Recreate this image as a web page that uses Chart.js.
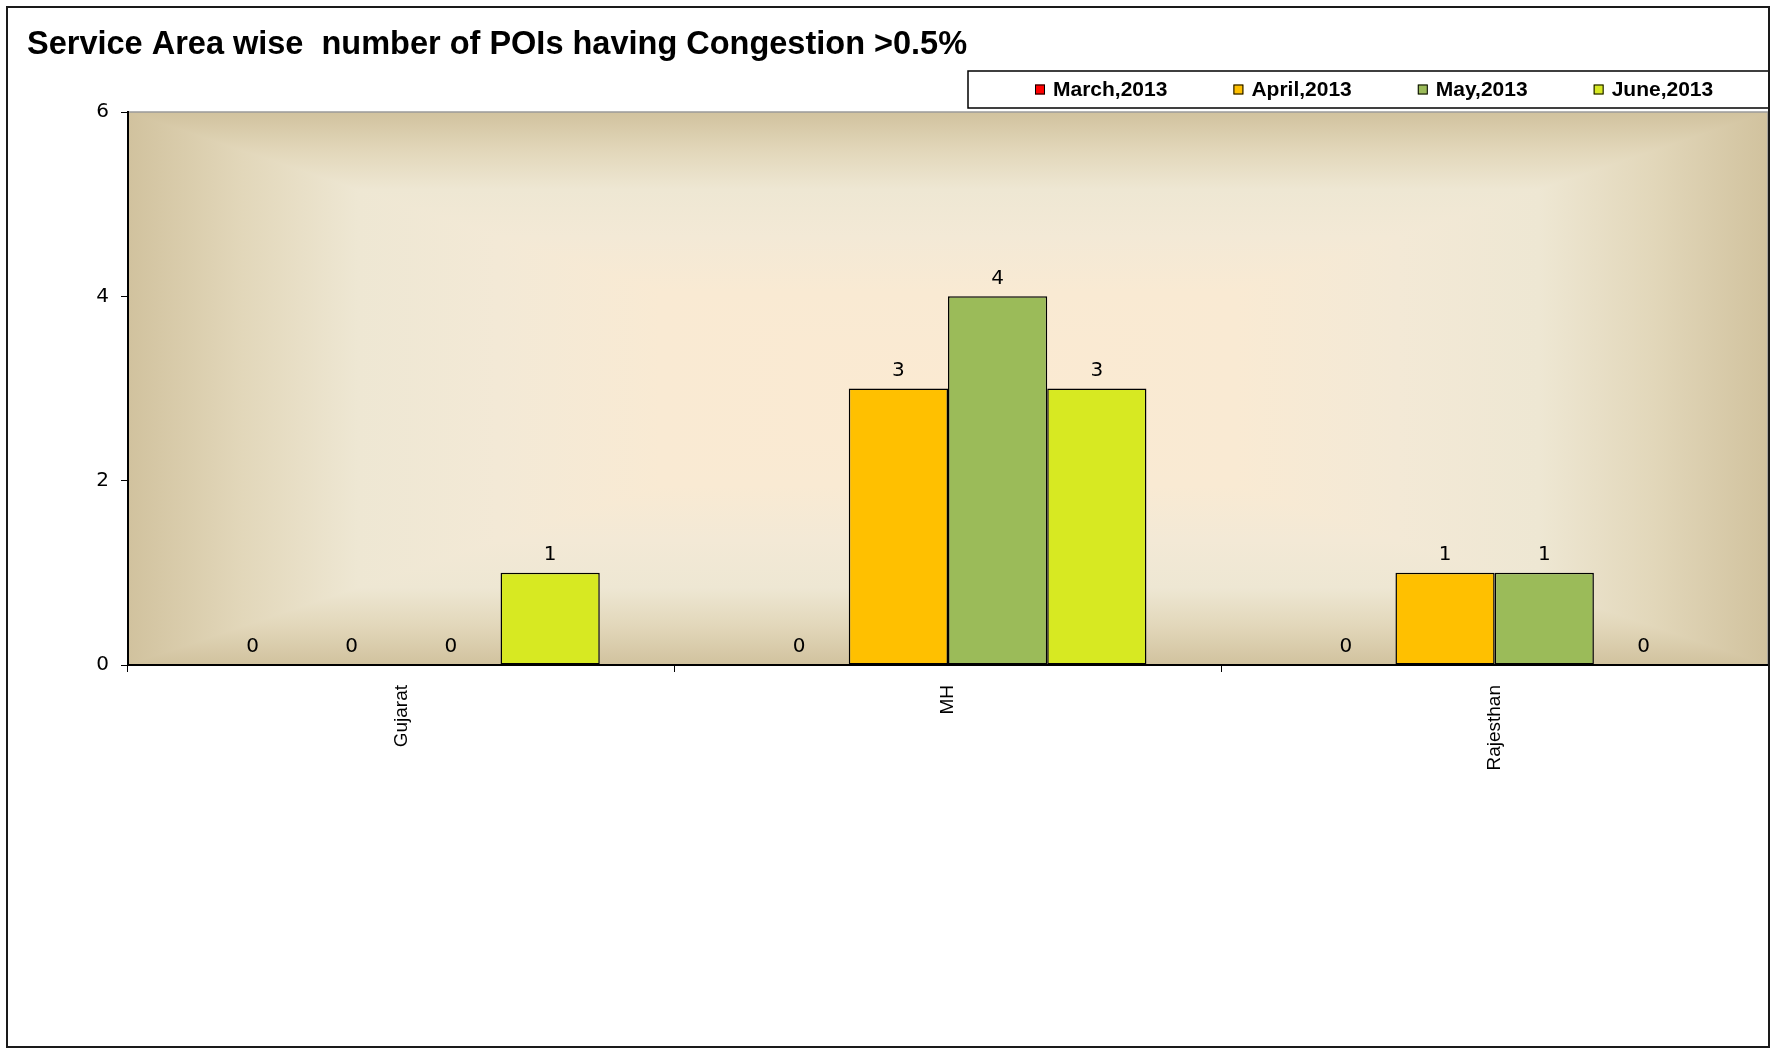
<!DOCTYPE html>
<html>
<head>
<meta charset="utf-8">
<title>Service Area wise number of POIs having Congestion &gt;0.5%</title>
<script src="https://cdn.jsdelivr.net/npm/chart.js@4.4.1/dist/chart.umd.min.js"></script>
<style>
    html, body { margin: 0; padding: 0; background: #ffffff; }
    canvas { display: block; }
</style>
</head>
<body>
<canvas id="poi-chart" width="1779" height="1050"></canvas>
<script>
// Chart data
const areas = ['Gujarat', 'MH', 'Rajesthan'];
const monthLabels = ['March,2013', 'April,2013', 'May,2013', 'June,2013'];
const march2013 = [0, 0, 0];
const april2013 = [0, 3, 1];
const may2013 = [0, 4, 1];
const june2013 = [1, 3, 0];
const yTicks = [0, 2, 4, 6];

const monthColors = ['#FF0000', '#FFC000', '#9BBB59', '#D7E922'];
const labelFont = '"DejaVu Sans", Verdana, sans-serif';
const arialFont = '"Liberation Sans", Arial, sans-serif';

// Rectangular "from centre" gradient behind the bars, like the Excel plot area
const plotBackground = {
    id: 'plotBackground',
    beforeDraw(chart) {
        const { ctx, chartArea: a } = chart;
        const cx = (a.left + a.right) / 2;
        const cy = (a.top + a.bottom) / 2;
        const stops = [
            [0, '#FBEAD2'],
            [0.35, '#F9EAD3'],
            [0.55, '#F3E9D6'],
            [0.72, '#EEE7D3'],
            [0.86, '#E2D7BA'],
            [1, '#D1C29E']
        ];
        const fillGradient = (x0, y0, x1, y1) => {
            const g = ctx.createLinearGradient(x0, y0, x1, y1);
            stops.forEach(s => g.addColorStop(s[0], s[1]));
            return g;
        };
        ctx.save();
        // left and right halves first
        ctx.fillStyle = fillGradient(cx, 0, a.left, 0);
        ctx.fillRect(a.left, a.top, cx - a.left, a.bottom - a.top);
        ctx.fillStyle = fillGradient(cx, 0, a.right, 0);
        ctx.fillRect(cx, a.top, a.right - cx, a.bottom - a.top);
        // then the top and bottom triangles over them
        ctx.beginPath();
        ctx.moveTo(a.left, a.top);
        ctx.lineTo(a.right, a.top);
        ctx.lineTo(cx, cy);
        ctx.closePath();
        ctx.fillStyle = fillGradient(0, cy, 0, a.top);
        ctx.fill();
        ctx.beginPath();
        ctx.moveTo(a.left, a.bottom);
        ctx.lineTo(a.right, a.bottom);
        ctx.lineTo(cx, cy);
        ctx.closePath();
        ctx.fillStyle = fillGradient(0, cy, 0, a.bottom);
        ctx.fill();
        // grey edge on top and right
        ctx.strokeStyle = '#9A9A9A';
        ctx.lineWidth = 1.5;
        ctx.beginPath();
        ctx.moveTo(a.left, a.top);
        ctx.lineTo(a.right, a.top);
        ctx.lineTo(a.right, a.bottom);
        ctx.stroke();
        ctx.restore();
    }
};

// Value written above each bar
const valueLabels = {
    id: 'valueLabels',
    afterDatasetsDraw(chart) {
        const ctx = chart.ctx;
        ctx.save();
        ctx.font = '20px ' + labelFont;
        ctx.fillStyle = '#000000';
        ctx.textAlign = 'center';
        ctx.textBaseline = 'bottom';
        chart.data.datasets.forEach((dataset, i) => {
            chart.getDatasetMeta(i).data.forEach((bar, j) => {
                ctx.fillText(String(dataset.data[j]), bar.x, bar.y - 8);
            });
        });
        ctx.restore();
    }
};

// Legend in a box at the top right, plus the outer frame
const boxedLegend = {
    id: 'boxedLegend',
    afterDraw(chart) {
        const ctx = chart.ctx;
        const top = 71;
        const bottom = 108;
        const mid = (top + bottom) / 2;
        ctx.save();
        ctx.strokeStyle = '#000000';
        ctx.lineWidth = 1.5;
        ctx.strokeRect(968, top, 1769 - 968, bottom - top);

        ctx.font = 'bold 21px ' + arialFont;
        ctx.textBaseline = 'middle';
        ctx.textAlign = 'left';
        let x = 1035;
        chart.data.datasets.forEach(dataset => {
            ctx.fillStyle = dataset.backgroundColor;
            ctx.fillRect(x, mid - 5, 10, 10);
            ctx.lineWidth = 1;
            ctx.strokeRect(x + 0.5, mid - 4.5, 9, 9);
            ctx.fillStyle = '#000000';
            ctx.fillText(dataset.label, x + 18, mid + 1);
            x += 18 + ctx.measureText(dataset.label).width + 66;
        });

        // outer chart frame
        ctx.lineWidth = 2;
        ctx.strokeStyle = '#1A1A1A';
        ctx.strokeRect(7, 7, 1769 - 7, 1047 - 7);
        ctx.restore();
    }
};

const seriesValues = [march2013, april2013, may2013, june2013];

const poiChart = new Chart(document.getElementById('poi-chart').getContext('2d'), {
    type: 'bar',
    data: {
        labels: areas,
        datasets: seriesValues.map((values, i) => ({
            label: monthLabels[i],
            data: values,
            backgroundColor: monthColors[i],
            borderColor: '#000000',
            borderWidth: 1.5,
            borderSkipped: false,
            barPercentage: 1,
            categoryPercentage: 0.726
        }))
    },
    options: {
        responsive: false,
        animation: false,
        layout: {
            padding: { left: 27, right: 11, top: 0, bottom: 0 }
        },
        plugins: {
            legend: { display: false },
            tooltip: { enabled: false },
            title: {
                display: true,
                text: 'Service Area wise  number of POIs having Congestion >0.5%',
                align: 'start',
                color: '#000000',
                font: { family: arialFont, size: 32.5, weight: 'bold' },
                padding: { top: 26, bottom: 47 }
            }
        },
        scales: {
            x: {
                grid: {
                    display: true,
                    drawOnChartArea: false,
                    drawTicks: true,
                    tickLength: 7,
                    color: '#000000',
                    offset: true
                },
                border: { color: '#000000', width: 2 },
                ticks: {
                    color: '#000000',
                    font: { family: arialFont, size: 19 },
                    minRotation: 90,
                    maxRotation: 90,
                    padding: 13
                },
                afterFit(scale) {
                    scale.height = 385;
                }
            },
            y: {
                min: 0,
                max: 6,
                grid: {
                    drawOnChartArea: false,
                    tickLength: 7,
                    color: '#000000'
                },
                border: { color: '#000000', width: 2 },
                ticks: {
                    color: '#000000',
                    font: { family: labelFont, size: 20 },
                    padding: 12
                },
                afterBuildTicks(scale) {
                    scale.ticks = yTicks.map(v => ({ value: v }));
                },
                afterFit(scale) {
                    scale.width = 101;
                }
            }
        }
    },
    plugins: [plotBackground, valueLabels, boxedLegend]
});
</script>
</body>
</html>
